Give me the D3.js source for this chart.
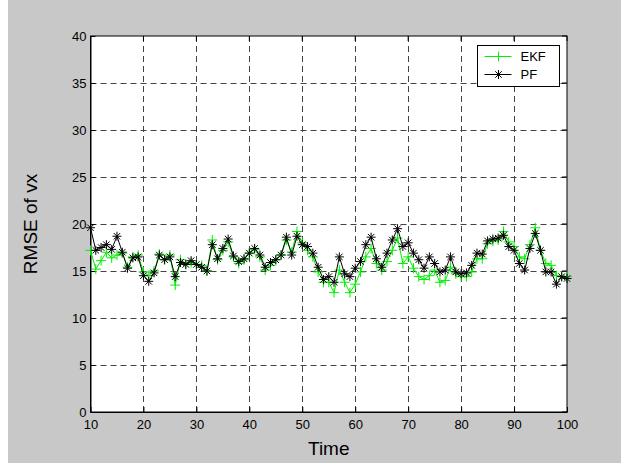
<!DOCTYPE html>
<html>
<head>
<meta charset="utf-8">
<script src="https://cdn.jsdelivr.net/npm/d3@7"></script>
<style>
  body { margin: 0; background: #fff; }
  svg { font-family: "Liberation Sans", Arial, sans-serif; }
</style>
</head>
<body>
<div id="vis"></div>
<script>
// data, time = 10..100
const TIME = d3.range(10, 101);
const EKF = [
  17.2, 15.2, 16.1, 17.0, 16.4, 16.7, 16.9, 15.4, 16.5, 16.7,
  14.9, 14.5, 15.0, 16.8, 16.2, 16.7, 13.5, 16.2, 15.7, 15.9,
  15.7, 15.6, 15.0, 18.3, 16.2, 17.2, 18.1, 16.5, 15.8, 16.2,
  16.9, 17.3, 16.5, 15.1, 15.6, 16.2, 16.7, 18.3, 17.0, 19.2,
  18.0, 17.2, 16.5, 14.9, 13.8, 13.8, 12.7, 15.1, 13.8, 12.7,
  13.6, 14.9, 16.5, 17.4, 15.8, 15.1, 16.0, 17.2, 18.5, 15.8,
  16.5, 15.3, 14.4, 14.1, 14.5, 15.1, 13.8, 14.0, 15.4, 14.7,
  14.4, 14.4, 14.9, 16.3, 16.3, 17.9, 18.2, 18.3, 19.2, 18.1,
  17.6, 16.5, 16.3, 17.8, 19.6, 17.2, 15.8, 15.6, 14.5, 14.4,
  14.4
];
const PF = [
  19.6, 17.2, 17.5, 17.8, 17.3, 18.7, 17.0, 15.3, 16.4, 16.5,
  14.5, 13.9, 14.8, 16.7, 16.2, 16.5, 14.4, 15.9, 15.7, 16.1,
  15.7, 15.4, 15.0, 17.8, 16.3, 17.4, 18.4, 16.6, 16.0, 16.3,
  16.9, 17.4, 16.7, 15.4, 15.9, 16.2, 16.7, 18.6, 16.7, 18.7,
  17.8, 17.6, 16.9, 15.4, 14.1, 14.4, 13.8, 16.5, 14.7, 14.4,
  15.3, 16.0, 17.8, 18.6, 16.3, 15.4, 16.9, 18.3, 19.5, 17.6,
  18.0, 16.9, 16.2, 15.3, 16.5, 15.8, 14.9, 15.1, 16.5, 14.9,
  14.7, 14.8, 15.6, 16.9, 16.8, 18.2, 18.4, 18.5, 18.8, 17.6,
  17.2, 15.8, 15.1, 17.4, 19.0, 17.2, 14.9, 14.9, 13.6, 14.4,
  14.2
];
const X_TICKS = [10, 20, 30, 40, 50, 60, 70, 80, 90, 100];
const Y_TICKS = [0, 5, 10, 15, 20, 25, 30, 35, 40];
const SERIES_NAMES = ["EKF", "PF"];
const SERIES_COLORS = ["#00ee00", "#000000"];

const FRAME_WIDTH = 629;
const FRAME_HEIGHT = 465;
const PLOT = {left: 90.5, right: 567, top: 36, bottom: 412};

const svg = d3.select("#vis")
  .append("svg")
  .attr("width", FRAME_WIDTH)
  .attr("height", FRAME_HEIGHT);

// grey figure background
svg.append("rect")
  .attr("x", 8).attr("y", 0)
  .attr("width", 613).attr("height", 463)
  .attr("fill", "#c8c8c8");

// white axes area
svg.append("rect")
  .attr("x", PLOT.left).attr("y", PLOT.top)
  .attr("width", PLOT.right - PLOT.left)
  .attr("height", PLOT.bottom - PLOT.top)
  .attr("fill", "#fff");

const X_SCALE = d3.scaleLinear().domain([10, 100]).range([PLOT.left, PLOT.right]);
const Y_SCALE = d3.scaleLinear().domain([0, 40]).range([PLOT.bottom, PLOT.top]);

// dashed grid
const grid = svg.append("g")
  .attr("stroke", "#444")
  .attr("stroke-width", 1)
  .attr("stroke-dasharray", "6,4");
grid.selectAll(".gx")
  .data(X_TICKS.slice(1, -1))
  .enter().append("line")
  .attr("x1", d => Math.round(X_SCALE(d)) + 0.5)
  .attr("x2", d => Math.round(X_SCALE(d)) + 0.5)
  .attr("y1", PLOT.top).attr("y2", PLOT.bottom);
grid.selectAll(".gy")
  .data(Y_TICKS.slice(1, -1))
  .enter().append("line")
  .attr("x1", PLOT.left).attr("x2", PLOT.right)
  .attr("y1", d => Math.round(Y_SCALE(d)) + 0.5)
  .attr("y2", d => Math.round(Y_SCALE(d)) + 0.5);

// axes (ticks inside, matlab style)
const xAxis = svg.append("g")
  .attr("transform", "translate(0," + PLOT.bottom + ")")
  .call(d3.axisBottom(X_SCALE).tickValues(X_TICKS).tickSize(-5).tickPadding(8).tickSizeOuter(0));
const yAxis = svg.append("g")
  .attr("transform", "translate(" + PLOT.left + ",0)")
  .call(d3.axisLeft(Y_SCALE).tickValues(Y_TICKS).tickSize(-5).tickPadding(4).tickSizeOuter(0));
[xAxis, yAxis].forEach(a => {
  a.selectAll("text").attr("font-size", "13px").attr("fill", "#000")
    .attr("font-family", "Liberation Sans, Arial, sans-serif");
  a.selectAll("line").attr("stroke", "#000");
  a.select(".domain").attr("stroke", "#000");
});
yAxis.selectAll("text").attr("dy", "0.35em");

// top and right ticks + box
svg.append("g").selectAll("line")
  .data(X_TICKS).enter().append("line")
  .attr("x1", d => X_SCALE(d)).attr("x2", d => X_SCALE(d))
  .attr("y1", PLOT.top).attr("y2", PLOT.top + 5)
  .attr("stroke", "#000");
svg.append("g").selectAll("line")
  .data(Y_TICKS).enter().append("line")
  .attr("x1", PLOT.right - 5).attr("x2", PLOT.right)
  .attr("y1", d => Y_SCALE(d)).attr("y2", d => Y_SCALE(d))
  .attr("stroke", "#000");
svg.append("rect")
  .attr("x", PLOT.left).attr("y", PLOT.top)
  .attr("width", PLOT.right - PLOT.left)
  .attr("height", PLOT.bottom - PLOT.top)
  .attr("fill", "none").attr("stroke", "#000");

// markers
function plusPath(s) {
  return "M" + (-s) + ",0H" + s + "M0," + (-s) + "V" + s;
}
function starPath(s) {
  const d = s * 0.72;
  return plusPath(s) + "M" + (-d) + "," + (-d) + "L" + d + "," + d +
    "M" + (-d) + "," + d + "L" + d + "," + (-d);
}

const line = d3.line()
  .x((d, i) => X_SCALE(TIME[i]))
  .y(d => Y_SCALE(d));

const SERIES = [EKF, PF];
SERIES.forEach((vals, k) => {
  const g = svg.append("g");
  g.append("path")
    .attr("d", line(vals))
    .attr("fill", "none")
    .attr("stroke", SERIES_COLORS[k])
    .attr("stroke-width", 1);
  g.selectAll("path.m")
    .data(vals).enter().append("path")
    .attr("class", "m")
    .attr("transform", (d, i) => "translate(" + X_SCALE(TIME[i]) + "," + Y_SCALE(d) + ")")
    .attr("d", k === 0 ? plusPath(5) : starPath(4.5))
    .attr("fill", "none")
    .attr("stroke", SERIES_COLORS[k])
    .attr("stroke-width", 1);
});

// axis titles
svg.append("text")
  .attr("x", (PLOT.left + PLOT.right) / 2)
  .attr("y", 455)
  .attr("text-anchor", "middle")
  .attr("font-size", "19px")
  .text("Time");
svg.append("text")
  .attr("transform", "translate(37," + ((PLOT.top + PLOT.bottom) / 2) + ") rotate(-90)")
  .attr("text-anchor", "middle")
  .attr("font-size", "19px")
  .text("RMSE of vx");

// legend
const LEG = {x: 477.5, y: 45.5, w: 82, h: 41};
const legend = svg.append("g");
legend.append("rect")
  .attr("x", LEG.x).attr("y", LEG.y)
  .attr("width", LEG.w).attr("height", LEG.h)
  .attr("fill", "#fff").attr("stroke", "#000");
SERIES_NAMES.forEach((name, k) => {
  const yy = LEG.y + 11 + k * 18;
  legend.append("line")
    .attr("x1", LEG.x + 7).attr("x2", LEG.x + 34)
    .attr("y1", yy).attr("y2", yy)
    .attr("stroke", SERIES_COLORS[k]);
  legend.append("path")
    .attr("transform", "translate(" + (LEG.x + 21) + "," + yy + ")")
    .attr("d", k === 0 ? plusPath(5) : starPath(4.5))
    .attr("fill", "none")
    .attr("stroke", SERIES_COLORS[k]);
  legend.append("text")
    .attr("x", LEG.x + 43).attr("y", yy)
    .attr("dy", "0.35em")
    .attr("font-size", "13px")
    .text(name);
});
</script>
</body>
</html>
